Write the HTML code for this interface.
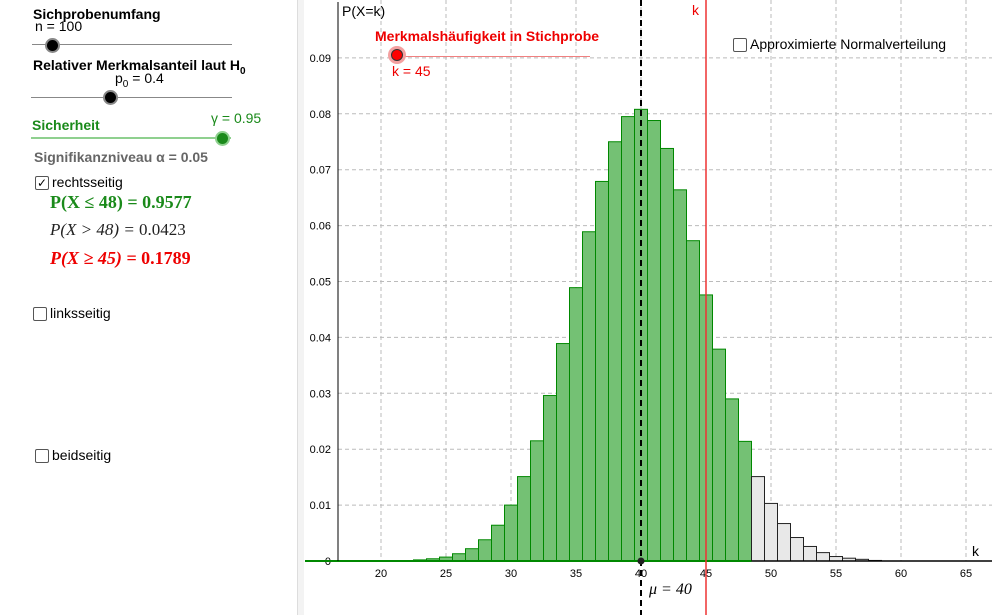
<!DOCTYPE html>
<html><head><meta charset="utf-8"><style>
body{margin:0;width:992px;height:615px;overflow:hidden;background:#fff;font-family:"Liberation Sans",sans-serif;position:relative}
.a{position:absolute;white-space:nowrap}
.b{font-weight:bold;font-size:14px}
.cb{position:absolute;width:12px;height:12px;border:1px solid #555;border-radius:2px;background:#fff}
.ser{font-family:"Liberation Serif",serif;font-style:italic;font-size:17px}
</style></head><body>
<div class="a" style="left:0;top:0;width:297px;height:615px;background:#fff;border-right:1px solid #ddd"></div>
<div class="a" style="left:297px;top:0;width:6px;height:615px;background:#f3f3f3;border-left:1px solid #ddd"></div>
<div class="a b" style="left:33px;top:6px">Sichprobenumfang</div>
<div class="a" style="left:35px;top:18px;font-size:14px">n = 100</div>
<div class="a" style="left:32px;top:44px;width:200px;height:1px;background:#888"></div>
<div class="a" style="left:45px;top:38px;width:11px;height:11px;border-radius:50%;background:#000;border:2px solid #888"></div>
<div class="a b" style="left:33px;top:57px">Relativer Merkmalsanteil laut H<sub style="font-size:10px">0</sub></div>
<div class="a" style="left:115px;top:70px;font-size:14px">p<sub style="font-size:10px">0</sub> = 0.4</div>
<div class="a" style="left:31px;top:97px;width:201px;height:1px;background:#888"></div>
<div class="a" style="left:103px;top:90px;width:11px;height:11px;border-radius:50%;background:#000;border:2px solid #888"></div>
<div class="a b" style="left:32px;top:117px;color:#1a8a1a">Sicherheit</div>
<div class="a" style="left:211px;top:110px;font-size:14px;color:#1a8a1a">γ = 0.95</div>
<div class="a" style="left:31px;top:137px;width:200px;height:2px;background:#8fd08f"></div>
<div class="a" style="left:215px;top:131px;width:11px;height:11px;border-radius:50%;background:#1a8a1a;border:2px solid #8fd08f"></div>
<div class="a b" style="left:34px;top:149px;color:#666">Signifikanzniveau α = 0.05</div>
<div class="cb" style="left:35px;top:176px;font-size:12px;line-height:12px;text-align:center">✓</div>
<div class="a" style="left:52px;top:174px;font-size:14px">rechtsseitig</div>
<div class="a" style="left:50px;top:192px;font-family:'Liberation Serif',serif;font-weight:bold;font-size:18px;color:#1a8a1a">P(X ≤ 48) = 0.9577</div>
<div class="a ser" style="left:50px;top:220px;color:#222">P(X &gt; 48) = <span style="font-style:normal">0.0423</span></div>
<div class="a" style="left:50px;top:248px;font-family:'Liberation Serif',serif;font-weight:bold;font-style:italic;font-size:18px;color:#e00">P(X ≥ 45) = <span style="font-style:normal">0.1789</span></div>
<div class="cb" style="left:33px;top:307px"></div>
<div class="a" style="left:50px;top:305px;font-size:14px">linksseitig</div>
<div class="cb" style="left:35px;top:449px"></div>
<div class="a" style="left:52px;top:447px;font-size:14px">beidseitig</div>

<svg id="chart" class="a" style="left:0;top:0" width="992" height="615"></svg>

<div class="a b" style="left:375px;top:28px;color:#e00">Merkmalshäufigkeit in Stichprobe</div>
<div class="a" style="left:398px;top:56px;width:192px;height:1px;background:#f08080"></div>
<div class="a" style="left:391px;top:49px;width:10px;height:10px;border-radius:50%;background:#f00;border:1px solid #333;box-shadow:0 0 0 3px #f4a0a0"></div>
<div class="a" style="left:392px;top:63px;font-size:14px;color:#e00">k = 45</div>
<div class="cb" style="left:733px;top:38px"></div>
<div class="a" style="left:750px;top:36px;font-size:14px">Approximierte Normalverteilung</div>

<script>
const ks=[21,22,23,24,25,26,27,28,29,30,31,32,33,34,35,36,37,38,39,40,41,42,43,44,45,46,47,48,49,50,51,52,53,54,55,56,57,58];
const probs=[0.00003,0.00008,0.0002,0.0004,0.0007,0.0013,0.0022,0.0038,0.0064,0.0100,0.0151,0.0215,0.0296,0.0389,0.0489,0.0589,0.0679,0.0750,0.0795,0.0808,0.0788,0.0738,0.0664,0.0573,0.0476,0.0379,0.0290,0.0214,0.0151,0.0103,0.0067,0.0042,0.0026,0.0015,0.0008,0.0005,0.0003,0.0001];
const xTicks=[20,25,30,35,40,45,50,55,60,65];
const yTicks=[0.01,0.02,0.03,0.04,0.05,0.06,0.07,0.08,0.09];
const criticalK=48, sampleK=45, mu=40;
const X=k=>641+(k-40)*13, Y=p=>561-p*5590;
const svg=document.getElementById('chart'),NS='http://www.w3.org/2000/svg';
function mk(t,a,txt){const e=document.createElementNS(NS,t);for(const k in a)e.setAttribute(k,a[k]);if(txt!=null)e.textContent=txt;svg.appendChild(e);return e;}
xTicks.forEach(t=>{const g=mk('line',{x1:X(t),x2:X(t),y1:0,y2:561,stroke:'#bbb','stroke-dasharray':'4,3'});

const l=mk('text',{x:X(t),y:577,'font-size':11,'text-anchor':'middle','font-family':'Liberation Sans'},t);
});
yTicks.forEach(t=>{const g=mk('line',{x1:338,x2:992,y1:Y(t),y2:Y(t),stroke:'#bbb','stroke-dasharray':'4,3'});

const l=mk('text',{x:331,y:Y(t)+4,'font-size':11,'text-anchor':'end','font-family':'Liberation Sans'},t.toFixed(2));
});
const z=mk('text',{x:331,y:565,'font-size':11,'text-anchor':'end','font-family':'Liberation Sans'},'0');

ks.forEach((k,i)=>{const ok=k<=criticalK;const r=mk('rect',{x:X(k)-6.5,y:Y(probs[i]),width:13,height:561-Y(probs[i]),fill:ok?'#74c174':'#e8e8e8',stroke:ok?'#008800':'#222','stroke-width':1});
});
const ax=mk('line',{x1:305,x2:992,y1:561,y2:561,stroke:'#000','stroke-width':1.5});
const gb=mk('line',{x1:305,x2:X(criticalK)+6.5,y1:561,y2:561,stroke:'#008800','stroke-width':2});
const ay=mk('line',{x1:338,x2:338,y1:2,y2:561,stroke:'#000','stroke-width':1});
const yt=mk('text',{x:342,y:16,'font-size':14,'font-family':'Liberation Sans'},'P(X=k)');
const xt=mk('text',{x:972,y:556,'font-size':14,'font-family':'Liberation Sans'},'k');
const ml=mk('line',{x1:X(mu),x2:X(mu),y1:0,y2:615,stroke:'#000','stroke-width':2,'stroke-dasharray':'6,4'});
const md=mk('circle',{cx:X(mu),cy:561,r:3.5,fill:'#222'});
const mt=mk('text',{x:X(mu)+8,y:594,'font-size':16,'font-style':'italic','font-family':'Liberation Serif'},'μ = 40');
const kl=mk('line',{x1:X(sampleK),x2:X(sampleK),y1:0,y2:615,stroke:'#e33','stroke-width':1.5});
const kt=mk('text',{x:X(sampleK)-14,y:15,'font-size':14,fill:'#e00','font-family':'Liberation Sans'},'k');
</script>
</body></html>
